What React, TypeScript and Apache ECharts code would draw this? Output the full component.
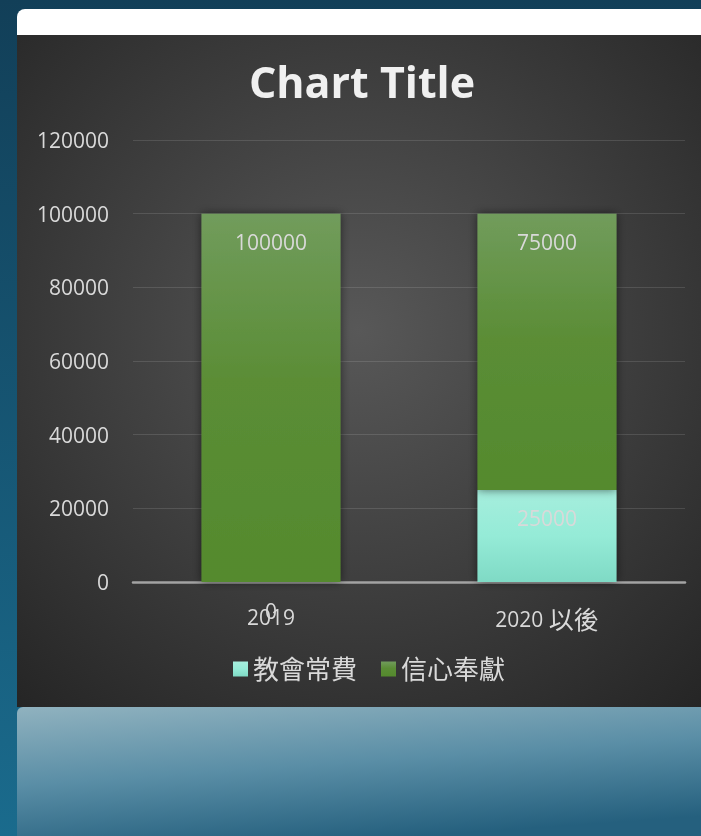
import React, { useEffect, useRef } from "react";
import * as echarts from "echarts";

const categories = ["2019", "2020 以後"];
const seriesNames = ["教會常費", "信心奉獻"];
const churchExpense = [0, 25000];
const faithOffering = [100000, 75000];
const yTicks = { min: 0, max: 120000, interval: 20000 };
const chartTitle = "Chart Title";

export default function App() {
  const ref = useRef<HTMLDivElement>(null);
  useEffect(() => {
    if (!ref.current) return;
    const chart = echarts.init(ref.current, null, { renderer: "svg" });
    const font = "'Open Sans', 'Noto Sans CJK TC', sans-serif";
    const txt = "#d9d9d9";
    const greenGrad = new echarts.graphic.LinearGradient(0, 0, 0, 1, [
      { offset: 0, color: "#719c5c" },
      { offset: 0.45, color: "#5b8d36" },
      { offset: 1, color: "#548a2d" },
    ]);
    const mintGrad = new echarts.graphic.LinearGradient(0, 0, 0, 1, [
      { offset: 0, color: "#a6eedd" },
      { offset: 0.5, color: "#95ebd7" },
      { offset: 1, color: "#7fdac5" },
    ]);
    const label = {
      show: true,
      position: "insideTop" as const,
      distance: 18,
      color: txt,
      fontSize: 21,
      fontFamily: font,
    };
    chart.setOption({
      animation: false,
      textStyle: { fontFamily: font },
      graphic: [
        {
          type: "rect",
          z: -100,
          silent: true,
          shape: { x: 0, y: 0, width: 701, height: 836 },
          style: {
            fill: new echarts.graphic.LinearGradient(0, 0, 0, 1, [
              { offset: 0, color: "#123f58" },
              { offset: 1, color: "#1a6b8d" },
            ]),
          },
        },
        {
          type: "rect",
          z: -99,
          silent: true,
          shape: { x: 17, y: 9, width: 700, height: 40, r: [8, 0, 0, 0] },
          style: { fill: "#ffffff" },
        },
        {
          type: "rect",
          z: -98,
          silent: true,
          shape: { x: 17, y: 35, width: 684, height: 672 },
          style: {
            fill: new echarts.graphic.RadialGradient(0.5, 0.44, 0.75, [
              { offset: 0, color: "#585858" },
              { offset: 1, color: "#252525" },
            ]),
          },
        },
        {
          type: "rect",
          z: -98,
          silent: true,
          shape: { x: 17, y: 707, width: 700, height: 140, r: [6, 0, 0, 0] },
          style: {
            fill: new echarts.graphic.LinearGradient(0, 0, 0.35, 1, [
              { offset: 0, color: "#90b2bf" },
              { offset: 0.5, color: "#5a8ea6" },
              { offset: 1, color: "#25607e" },
            ]),
          },
        },
        {
          type: "text",
          z: 10,
          x: 362,
          y: 81,
          style: {
            text: chartTitle,
            fill: "#f0f0f0",
            fontSize: 43,
            fontWeight: "bold",
            fontFamily: font,
            textAlign: "center",
            textVerticalAlign: "middle",
          },
        },
      ],
      legend: {
        data: seriesNames,
        left: 228,
        top: 651,
        icon: "rect",
        itemWidth: 15,
        itemHeight: 15,
        itemGap: 24,
        textStyle: { color: txt, fontSize: 26, fontFamily: font },
      },
      grid: { left: 133, right: 16, top: 140, bottom: 254, containLabel: false },
      xAxis: {
        type: "category",
        data: categories,
        axisTick: { show: false },
        axisLine: { lineStyle: { color: "#a3a3a3", width: 2.5 } },
        axisLabel: {
          color: txt,
          fontSize: 21,
          margin: 24,
          fontFamily: font,
          formatter: (v: string) => v.replace(/([^\x00-\x7f]+)/g, "{c|$1}"),
          rich: { c: { fontSize: 25, color: txt, fontFamily: font } },
        },
      },
      yAxis: {
        type: "value",
        min: yTicks.min,
        max: yTicks.max,
        interval: yTicks.interval,
        axisLine: { show: false },
        axisTick: { show: false },
        axisLabel: {
          color: txt,
          fontSize: 21,
          margin: 24,
          fontFamily: font,
          formatter: (v: number) => String(v),
        },
        splitLine: { lineStyle: { color: "rgba(255,255,255,0.12)", width: 1 } },
      },
      series: [
        {
          name: seriesNames[0],
          type: "bar",
          stack: "total",
          barWidth: 139,
          data: churchExpense,
          itemStyle: {
            color: mintGrad,
            shadowBlur: 10,
            shadowColor: "rgba(0,0,0,0.55)",
          },
          label,
        },
        {
          name: seriesNames[1],
          type: "bar",
          stack: "total",
          barWidth: 139,
          data: faithOffering,
          itemStyle: {
            color: greenGrad,
            shadowBlur: 10,
            shadowColor: "rgba(0,0,0,0.55)",
          },
          label,
        },
      ],
    });
    return () => chart.dispose();
  }, []);
  return (
    <div
      ref={ref}
      style={{ position: "fixed", left: 0, top: 0, width: 701, height: 836 }}
    />
  );
}
